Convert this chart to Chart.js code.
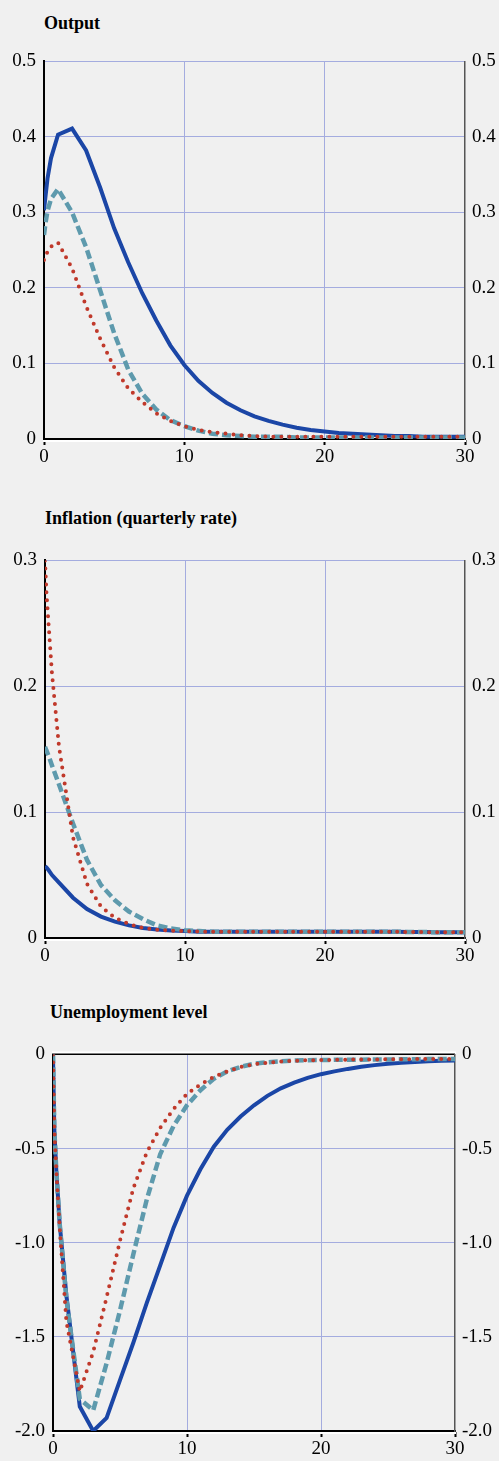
<!DOCTYPE html>
<html>
<head>
<meta charset="utf-8">
<script src="https://cdn.jsdelivr.net/npm/chart.js@4.4.1/dist/chart.umd.min.js"></script>
<style>
  html, body { margin: 0; padding: 0; background: #f0f0f0; }
  body { width: 499px; height: 1461px; position: relative; overflow: hidden; }
  .title { position: absolute; font: bold 18px "Liberation Serif", "Times New Roman", serif; color: #000; }
  .wrap { position: absolute; left: 0; width: 499px; }
</style>
</head>
<body>
<div class="title" style="left:44px; top:13px;">Output</div>
<div class="wrap" style="top:42px; height:427px;"><canvas id="c1"></canvas></div>
<div class="title" style="left:45px; top:508px;">Inflation (quarterly rate)</div>
<div class="wrap" style="top:541px; height:427px;"><canvas id="c2"></canvas></div>
<div class="title" style="left:50px; top:1002px;">Unemployment level</div>
<div class="wrap" style="top:1035px; height:426px;"><canvas id="c3"></canvas></div>

<script>
// quarters after the shock (a few early sub-steps to catch the impact jump)
const quarters = [0, 0.1, 0.25, 0.5, 1, 2, 3, 4, 5, 6, 7, 8, 9, 10, 11, 12, 13, 14, 15,
  16, 17, 18, 19, 20, 21, 22, 23, 24, 25, 26, 27, 28, 29, 30];
const xTicks = [0, 10, 20, 30];

// Output
const outputSolid = [0.303, 0.32, 0.345, 0.372, 0.403, 0.411, 0.382, 0.333, 0.279, 0.234,
  0.193, 0.157, 0.124, 0.098, 0.077, 0.061, 0.048, 0.038, 0.030, 0.024, 0.019, 0.015, 0.012,
  0.010, 0.008, 0.007, 0.006, 0.005, 0.004, 0.004, 0.003, 0.003, 0.003, 0.003];
const outputDashed = [0.27, 0.285, 0.302, 0.318, 0.331, 0.30, 0.254, 0.197, 0.14, 0.092,
  0.06, 0.039, 0.025, 0.017, 0.011, 0.007, 0.005, 0.004, 0.003, 0.003, 0.003, 0.002, 0.002,
  0.002, 0.002, 0.002, 0.002, 0.002, 0.002, 0.002, 0.002, 0.002, 0.002, 0.002];
const outputDotted = [0.237, 0.242, 0.248, 0.255, 0.26, 0.226, 0.176, 0.133, 0.095, 0.067,
  0.049, 0.034, 0.024, 0.017, 0.012, 0.009, 0.007, 0.005, 0.004, 0.003, 0.003, 0.003, 0.003,
  0.003, 0.003, 0.003, 0.003, 0.003, 0.003, 0.003, 0.003, 0.003, 0.003, 0.003];
const outputTicks = [0, 0.1, 0.2, 0.3, 0.4, 0.5];

// Inflation
const inflSolid = [0.057, 0.056, 0.054, 0.05, 0.044, 0.032, 0.023, 0.017, 0.013, 0.010,
  0.008, 0.0068, 0.006, 0.0055, 0.005, 0.005, 0.005, 0.005, 0.005, 0.005, 0.005, 0.005, 0.005,
  0.005, 0.005, 0.005, 0.005, 0.005, 0.005, 0.0048, 0.0047, 0.0046, 0.0045, 0.0045];
const inflDashed = [0.152, 0.149, 0.145, 0.137, 0.122, 0.091, 0.062, 0.042, 0.03, 0.021,
  0.015, 0.010, 0.0075, 0.0062, 0.0055, 0.005, 0.005, 0.005, 0.005, 0.005, 0.005, 0.005, 0.005,
  0.005, 0.005, 0.005, 0.005, 0.005, 0.005, 0.0048, 0.0047, 0.0046, 0.0045, 0.0045];
const inflDotted = [0.30, 0.275, 0.25, 0.21, 0.152, 0.08, 0.043, 0.025, 0.016, 0.011,
  0.008, 0.0065, 0.0058, 0.0055, 0.005, 0.005, 0.005, 0.005, 0.005, 0.005, 0.005, 0.005, 0.005,
  0.005, 0.005, 0.005, 0.005, 0.005, 0.005, 0.0048, 0.0047, 0.0046, 0.0045, 0.0045];
const inflTicks = [0, 0.1, 0.2, 0.3];

// Unemployment
const unempSolid = [0, -0.4, -0.62, -0.9, -1.28, -1.87, -2.0, -1.93, -1.73, -1.53,
  -1.32, -1.12, -0.92, -0.75, -0.61, -0.49, -0.40, -0.33, -0.27, -0.22, -0.18, -0.15, -0.125,
  -0.105, -0.09, -0.077, -0.066, -0.057, -0.05, -0.045, -0.04, -0.037, -0.034, -0.032];
const unempDashed = [0, -0.4, -0.62, -0.9, -1.3, -1.83, -1.89, -1.64, -1.36, -1.06,
  -0.77, -0.53, -0.38, -0.27, -0.19, -0.13, -0.09, -0.066, -0.05, -0.042, -0.037, -0.033, -0.031,
  -0.03, -0.029, -0.028, -0.028, -0.027, -0.027, -0.026, -0.026, -0.025, -0.025, -0.025];
const unempDotted = [0, -0.4, -0.62, -0.92, -1.42, -1.79, -1.58, -1.29, -0.99, -0.71,
  -0.52, -0.39, -0.29, -0.21, -0.16, -0.12, -0.09, -0.067, -0.052, -0.045, -0.038, -0.034, -0.031,
  -0.03, -0.029, -0.028, -0.027, -0.027, -0.026, -0.026, -0.025, -0.025, -0.025, -0.025];
const unempTicks = [-2.0, -1.5, -1.0, -0.5, 0];

const BLUE = '#1b46a6';
const TEAL = '#5e9aad';
const RED = '#c0392b';
const GRID = '#a4acdf';
const FONT = { family: '"Liberation Serif", "Times New Roman", serif', size: 19 };

function pts(ys) {
  return ys.map((y, i) => ({ x: quarters[i], y: y }));
}

function fmt(v) {
  return v === 0 ? '0' : v.toFixed(1);
}

// white edge under the bottom axis, and above the top one when it is zero
const edgePlugin = {
  id: 'edge',
  afterDraw(chart, args, opts) {
    const a = chart.chartArea;
    const ctx = chart.ctx;
    ctx.save();
    ctx.strokeStyle = '#ffffff';
    ctx.lineWidth = 2;
    ctx.beginPath();
    ctx.moveTo(a.left - 1, a.bottom + 2);
    ctx.lineTo(a.right + 1, a.bottom + 2);
    if (opts.top) {
      ctx.moveTo(a.left - 1, a.top - 2);
      ctx.lineTo(a.right + 1, a.top - 2);
    }
    ctx.stroke();
    ctx.restore();
  }
};

function makeChart(id, cfg) {
  const tickVals = cfg.ticks;
  const yMin = tickVals[0], yMax = tickVals[tickVals.length - 1];
  const setTicks = scale => { scale.ticks = tickVals.map(v => ({ value: v })); };

  new Chart(document.getElementById(id), {
    type: 'line',
    data: {
      datasets: [
        { data: pts(cfg.dotted), borderColor: RED, borderWidth: 4, borderDash: [0, 8],
          borderCapStyle: 'round', order: 1 },
        { data: pts(cfg.dashed), borderColor: TEAL, borderWidth: 4.5, borderDash: [9, 4],
          order: 2 },
        { data: pts(cfg.solid), borderColor: BLUE, borderWidth: 4, order: 3 }
      ]
    },
    options: {
      responsive: true,
      maintainAspectRatio: false,
      animation: false,
      layout: { padding: { top: 2, left: 0, right: 0, bottom: 0 } },
      elements: { point: { radius: 0 }, line: { tension: 0, fill: false } },
      plugins: { legend: { display: false }, tooltip: { enabled: false }, edge: { top: cfg.topZero } },
      scales: {
        x: {
          type: 'linear', min: 0, max: 30,
          afterBuildTicks: scale => { scale.ticks = xTicks.map(v => ({ value: v })); },
          afterFit: scale => { scale.height = 30; },
          grid: {
            color: c => (c.tick && (c.tick.value === 0 || c.tick.value === 30)) ? 'rgba(0,0,0,0)' : GRID,
            lineWidth: 1, tickColor: '#000', tickLength: 6, tickWidth: 2
          },
          border: { color: '#000', width: 2 },
          ticks: { color: '#000', font: FONT, padding: 1, maxRotation: 0 }
        },
        y: {
          position: 'left', min: yMin, max: yMax,
          afterBuildTicks: setTicks,
          afterFit: scale => { scale.width = cfg.left; },
          grid: {
            color: c => (c.tick && c.tick.value === 0) ? (cfg.topZero ? '#000' : 'rgba(0,0,0,0)') : GRID,
            lineWidth: c => (c.tick && c.tick.value === 0) ? 2 : 1,
            drawTicks: false
          },
          border: { color: '#000', width: 2 },
          ticks: { color: '#000', font: FONT, padding: 8, callback: fmt }
        },
        y2: {
          position: 'right', min: yMin, max: yMax,
          afterBuildTicks: setTicks,
          afterFit: scale => { scale.width = cfg.right; },
          grid: { display: false, drawTicks: false },
          border: { color: '#555', width: 1.5 },
          ticks: { color: '#000', font: FONT, padding: 7, callback: fmt }
        }
      }
    },
    plugins: [edgePlugin]
  });
}

makeChart('c1', { solid: outputSolid, dashed: outputDashed, dotted: outputDotted,
  ticks: outputTicks, left: 44, right: 34, topZero: false });
makeChart('c2', { solid: inflSolid, dashed: inflDashed, dotted: inflDotted,
  ticks: inflTicks, left: 45, right: 34, topZero: false });
makeChart('c3', { solid: unempSolid, dashed: unempDashed, dotted: unempDotted,
  ticks: unempTicks, left: 53, right: 44, topZero: true });
</script>
</body>
</html>
